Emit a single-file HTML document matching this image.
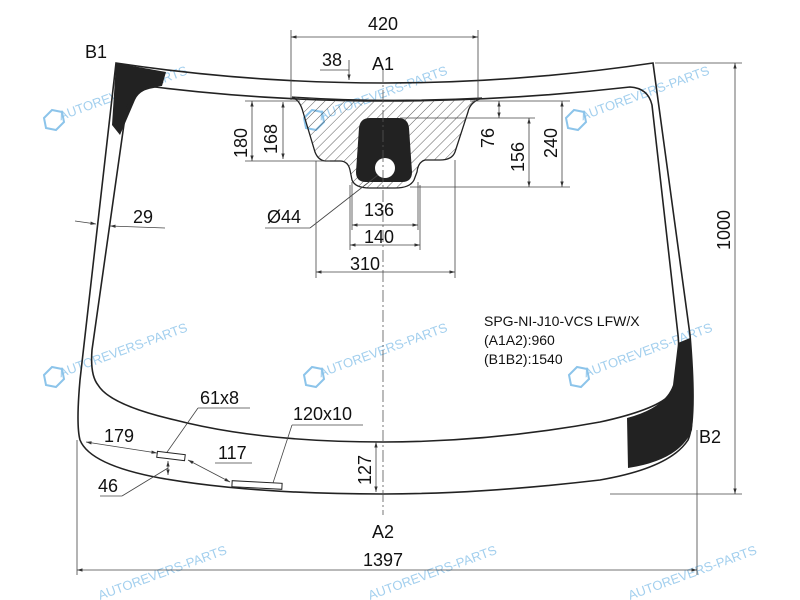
<!DOCTYPE html>
<html><head><meta charset="utf-8"><style>
html,body{margin:0;padding:0;background:#fff;}
svg{display:block;font-family:"Liberation Sans",sans-serif;}
</style></head><body>
<svg width="800" height="600" viewBox="0 0 800 600" xmlns="http://www.w3.org/2000/svg">
<defs>
<pattern id="h" width="7" height="7" patternUnits="userSpaceOnUse" patternTransform="rotate(45)">
<line x1="0" y1="0" x2="0" y2="7" stroke="#333" stroke-width="0.8"/>
</pattern>
<marker id="a" viewBox="0 0 10 10" refX="10" refY="5" markerWidth="7" markerHeight="7" orient="auto-start-reverse">
<path d="M0,2 L10,5 L0,8 z" fill="#333"/></marker>
</defs>
<rect width="800" height="600" fill="#fff"/>

<!-- watermarks -->
<g fill="#8cc4ea" font-size="13" opacity="0.8">
<g transform="translate(40,128) rotate(-20)"><text x="22" y="0">AUTOREVERS-PARTS</text></g>
<g transform="translate(300,128) rotate(-20)"><text x="22" y="0">AUTOREVERS-PARTS</text></g>
<g transform="translate(562,128) rotate(-20)"><text x="22" y="0">AUTOREVERS-PARTS</text></g>
<g transform="translate(40,385) rotate(-20)"><text x="22" y="0">AUTOREVERS-PARTS</text></g>
<g transform="translate(300,385) rotate(-20)"><text x="22" y="0">AUTOREVERS-PARTS</text></g>
<g transform="translate(565,385) rotate(-20)"><text x="22" y="0">AUTOREVERS-PARTS</text></g>
<text x="100" y="600" transform="rotate(-20 100 600)">AUTOREVERS-PARTS</text>
<text x="370" y="600" transform="rotate(-20 370 600)">AUTOREVERS-PARTS</text>
<text x="630" y="600" transform="rotate(-20 630 600)">AUTOREVERS-PARTS</text>
</g>
<g fill="none" stroke="#8cc4ea" stroke-width="2">
<polygon points="44,118 52,110 62,112 64,122 56,130 46,128"/>
<polygon points="304,118 312,110 322,112 324,122 316,130 306,128"/>
<polygon points="566,118 574,110 584,112 586,122 578,130 568,128"/>
<polygon points="44,375 52,367 62,369 64,379 56,387 46,385"/>
<polygon points="304,375 312,367 322,369 324,379 316,387 306,385"/>
<polygon points="569,375 577,367 587,369 589,379 581,387 571,385"/>
</g>

<!-- black bands -->
<path d="M116,63 L166,72 L162,86 Q140,88 135,100 L120,135 L112,125 Z" fill="#222"/>
<path d="M678,343 L690,338 Q695,400 692,430 Q680,460 628,468 L627,418 Q665,408 673,385 Z" fill="#222"/>

<!-- outer glass -->
<path d="M116,63 Q383,103 653,63 L690,335 Q697,420 688,440 Q670,468 600,480 Q480,494 383,494 Q250,494 160,478 Q90,465 80,440 Q76,425 80,380 Z" fill="none" stroke="#222" stroke-width="1.6"/>
<!-- inner -->
<path d="M155,87 Q383,115 630,87 Q648,88 652,105 L678,335 Q682,380 670,395 Q655,410 600,422 Q490,442 383,442 Q260,442 175,420 Q110,405 98,385 Q90,375 92,350 L126,110 Q132,90 155,87 Z" fill="none" stroke="#222" stroke-width="1.6"/>

<!-- shade band -->
<path d="M292,97 Q383,103 482,98 Q470,102 468,112 L455,152 Q452,160 440,160 L425,160 Q418,162 417,172 L414,180 Q410,188 395,188 L370,188 Q355,188 352,180 L350,170 Q348,161 340,161 L325,161 Q318,160 315,152 L303,112 Q300,100 292,97 Z" fill="url(#h)" stroke="#222" stroke-width="1.3"/>
<path d="M370,118 L398,118 Q408,118 409,128 L412,172 Q412,182 402,182 L366,182 Q356,182 356,172 L359,128 Q360,118 370,118 Z" fill="#222"/>
<circle cx="385" cy="168" r="10" fill="#fff"/>

<!-- center line -->
<line x1="383" y1="70" x2="383" y2="515" stroke="#555" stroke-width="0.8" stroke-dasharray="12,3,2,3"/>

<g stroke="#444" stroke-width="0.8" fill="none">
<!-- 420 -->
<line x1="291" y1="30" x2="291" y2="100"/><line x1="478" y1="30" x2="478" y2="100"/>
<line x1="291" y1="37" x2="478" y2="37" marker-start="url(#a)" marker-end="url(#a)"/>
<!-- 38 -->
<line x1="320" y1="70" x2="349" y2="70"/><line x1="349" y1="60" x2="349" y2="80" marker-end="url(#a)"/>
<!-- 180/168 -->
<line x1="245" y1="101" x2="300" y2="101"/><line x1="245" y1="161" x2="330" y2="161"/>
<line x1="252" y1="101" x2="252" y2="161" marker-start="url(#a)" marker-end="url(#a)"/>
<line x1="283" y1="102" x2="283" y2="159" marker-start="url(#a)" marker-end="url(#a)"/>
<!-- right dims -->
<line x1="470" y1="101" x2="570" y2="101"/><line x1="400" y1="118" x2="535" y2="118"/><line x1="410" y1="187" x2="570" y2="187"/>
<line x1="499" y1="101" x2="499" y2="118" marker-start="url(#a)" marker-end="url(#a)"/>
<line x1="529" y1="118" x2="529" y2="187" marker-start="url(#a)" marker-end="url(#a)"/>
<line x1="562" y1="101" x2="562" y2="187" marker-start="url(#a)" marker-end="url(#a)"/>
<!-- bottom dims -->
<line x1="316" y1="161" x2="316" y2="278"/><line x1="455" y1="160" x2="455" y2="278"/>
<line x1="350" y1="185" x2="350" y2="250"/><line x1="420" y1="185" x2="420" y2="250"/>
<line x1="352" y1="182" x2="352" y2="230"/><line x1="418" y1="182" x2="418" y2="230"/>
<line x1="352" y1="225" x2="418" y2="225" marker-start="url(#a)" marker-end="url(#a)"/>
<line x1="350" y1="245" x2="420" y2="245" marker-start="url(#a)" marker-end="url(#a)"/>
<line x1="316" y1="272" x2="455" y2="272" marker-start="url(#a)" marker-end="url(#a)"/>
<!-- Ø44 -->
<line x1="265" y1="228" x2="310" y2="228"/><line x1="310" y1="228" x2="378" y2="175"/>
<!-- 29 -->
<line x1="75" y1="221" x2="96" y2="224" marker-end="url(#a)"/>
<line x1="165" y1="228" x2="110" y2="226" marker-end="url(#a)"/>
<!-- 1000 -->
<line x1="655" y1="63" x2="742" y2="63"/><line x1="610" y1="494" x2="742" y2="494"/>
<line x1="735" y1="63" x2="735" y2="494" marker-start="url(#a)" marker-end="url(#a)"/>
<!-- 1397 -->
<line x1="77" y1="440" x2="77" y2="575"/><line x1="697" y1="430" x2="697" y2="575"/>
<line x1="77" y1="570" x2="697" y2="570" marker-start="url(#a)" marker-end="url(#a)"/>
<!-- 127 -->
<line x1="376" y1="442" x2="376" y2="492" marker-start="url(#a)" marker-end="url(#a)"/>
<!-- bottom small -->
<line x1="86" y1="442" x2="157" y2="453" marker-start="url(#a)" marker-end="url(#a)"/>
<line x1="188" y1="460" x2="230" y2="482" marker-start="url(#a)" marker-end="url(#a)"/>
<line x1="168" y1="461" x2="168" y2="475" marker-start="url(#a)" marker-end="url(#a)"/>
<line x1="198" y1="408" x2="250" y2="408"/><line x1="198" y1="408" x2="165" y2="455"/>
<line x1="292" y1="425" x2="363" y2="425"/><line x1="292" y1="425" x2="272" y2="486"/>
<line x1="215" y1="463" x2="252" y2="463"/>
<line x1="100" y1="496" x2="122" y2="496"/><line x1="122" y1="496" x2="168" y2="468"/>
</g>
<rect x="157" y="453" width="28" height="6" fill="#fff" stroke="#222" stroke-width="1" transform="rotate(7 171 456)"/>
<rect x="232" y="482" width="50" height="6" fill="#fff" stroke="#222" stroke-width="1" transform="rotate(3 257 485)"/>

<g fill="#111" font-size="18">
<text x="85" y="58">B1</text>
<text x="699" y="443">B2</text>
<text x="372" y="70">A1</text>
<text x="372" y="538">A2</text>
<text x="368" y="30">420</text>
<text x="322" y="66">38</text>
<text x="133" y="223">29</text>
<text x="267" y="223">Ø44</text>
<text x="364" y="216">136</text>
<text x="364" y="243">140</text>
<text x="350" y="270">310</text>
<text x="363" y="566">1397</text>
<text x="200" y="404">61x8</text>
<text x="293" y="420">120x10</text>
<text x="104" y="442">179</text>
<text x="218" y="459">117</text>
<text x="98" y="492">46</text>
<text transform="translate(247,158) rotate(-90)">180</text>
<text transform="translate(277,154) rotate(-90)">168</text>
<text transform="translate(494,148) rotate(-90)">76</text>
<text transform="translate(524,172) rotate(-90)">156</text>
<text transform="translate(557,158) rotate(-90)">240</text>
<text transform="translate(730,250) rotate(-90)">1000</text>
<text transform="translate(371,485) rotate(-90)">127</text>
</g>
<g fill="#111" font-size="14">
<text x="484" y="326">SPG-NI-J10-VCS LFW/X</text>
<text x="484" y="345">(A1A2):960</text>
<text x="484" y="364">(B1B2):1540</text>
</g>
</svg>
</body></html>
